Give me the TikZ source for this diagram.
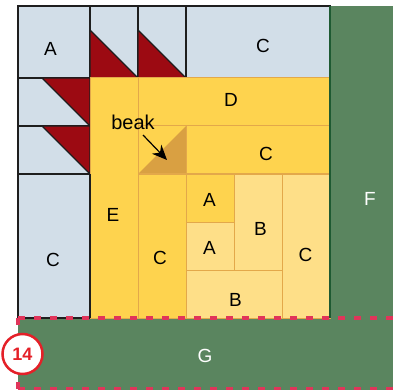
\documentclass[tikz,border=0pt]{standalone}
\usepackage{fontspec}
\setmainfont{Liberation Sans}
\usetikzlibrary{arrows.meta}
\definecolor{qblue}{RGB}{210,222,232}
\definecolor{qblack}{RGB}{30,30,30}
\definecolor{qred}{RGB}{156,10,18}
\definecolor{qyel}{RGB}{254,211,78}
\definecolor{qlt}{RGB}{254,223,136}
\definecolor{qbeak}{RGB}{217,160,66}
\definecolor{qline}{RGB}{227,168,74}
\definecolor{qgreen}{RGB}{90,133,95}
\definecolor{qdkgreen}{RGB}{30,90,50}
\definecolor{qpink}{RGB}{224,53,90}
\definecolor{qcirc}{RGB}{228,32,40}
\begin{document}
\begin{tikzpicture}[x=1pt,y=-1pt,
  bluepc/.style={fill=qblue, draw=qblack, line width=1.3pt},
  redpc/.style={fill=qred, draw=qblack, line width=1.3pt, line join=round},
  yelpc/.style={fill=qyel, draw=qline, line width=1pt},
  ltpc/.style={fill=qlt, draw=qline, line width=1pt},
  lbl/.style={font=\fontsize{19}{19}\selectfont, text=black, inner sep=0pt},
  wlbl/.style={lbl, text=white},
  seam/.style={draw=qpink, line width=3.5pt, dash pattern=on 7pt off 9pt},
]
\useasboundingbox (0,0) rectangle (393,390);
% green borders
\fill[qgreen] (330,6) rectangle (393,318);
\fill[qgreen] (18,318) rectangle (393,390);
% blue pieces
\draw[bluepc] (18,6) rectangle (90,78);
\draw[bluepc] (90,6) rectangle (138,78);
\draw[bluepc] (138,6) rectangle (186,78);
\draw[bluepc] (186,6) rectangle (330,78);
\draw[bluepc] (18,78) rectangle (90,126);
\draw[bluepc] (18,126) rectangle (90,174);
\draw[bluepc] (18,174) rectangle (90,318);
% geese
\draw[redpc] (90,30) -- (138,78) -- (90,78) -- cycle;
\draw[redpc] (138,30) -- (186,78) -- (138,78) -- cycle;
\draw[redpc] (42,78) -- (90,78) -- (90,126) -- cycle;
\draw[redpc] (42,126) -- (90,126) -- (90,174) -- cycle;
% yellow pieces
\draw[yelpc] (90,78) rectangle (138,318);
\draw[yelpc] (138,78) rectangle (330,126);
\fill[qyel] (138,126) rectangle (186,174);
\fill[qbeak] (186,126) -- (186,174) -- (138,174) -- cycle;
\draw[qline, line width=1pt] (138,126) rectangle (186,174);
\draw[yelpc] (186,126) rectangle (330,174);
\draw[yelpc] (138,174) rectangle (186,318);
\draw[yelpc] (186,174) rectangle (234,222);
\draw[ltpc] (186,222) rectangle (234,270);
\draw[ltpc] (234,174) rectangle (282,270);
\draw[ltpc] (186,270) rectangle (282,318);
\draw[ltpc] (282,174) rectangle (330,318);
\draw[qblack, line width=1.3pt] (90,174) -- (90,318);
\draw[qdkgreen, line width=1.5pt] (330,6) -- (330,318);
% seams
\draw[seam] (18,318) -- (393,318);
\draw[seam] (18,318) -- (18,390);
\draw[seam] (18,389) -- (393,389);
% labels
\node[lbl] (lA) at (50.5,49) {A};
\node[lbl] (lCtop) at (263,46) {C};
\node[lbl] (lD) at (231,100) {D};
\node[lbl] (lCrow) at (266,154) {C};
\node[lbl] (lA1) at (209.5,200) {A};
\node[lbl] (lA2) at (209.5,248) {A};
\node[lbl] (lB1) at (260.5,229) {B};
\node[lbl] (lB2) at (235.5,299.5) {B};
\node[lbl] (lCr) at (305.5,254.5) {C};
\node[lbl] (lCi) at (160,258) {C};
\node[lbl] (lE) at (113,214.5) {E};
\node[lbl] (lCl) at (53,259.5) {C};
\node[wlbl] (lF) at (370,199) {F};
\node[wlbl] (lG) at (205,356) {G};
\node[lbl, font=\fontsize{20}{20}\selectfont] (beak) at (133,122.5) {beak};
\coordinate (arrS) at (143,135);
\coordinate (arrE) at (167,160);
\draw[-{Stealth[length=15pt,width=13pt]}, line width=1.2pt] (arrS) -- (arrE);
\node[circle, draw=qcirc, line width=2.5pt, fill=white, minimum size=40pt, inner sep=0pt,
  font=\bfseries\fontsize{18}{18}\selectfont, text=qcirc] (num) at (22.5,354) {14};
\end{tikzpicture}
\end{document}
